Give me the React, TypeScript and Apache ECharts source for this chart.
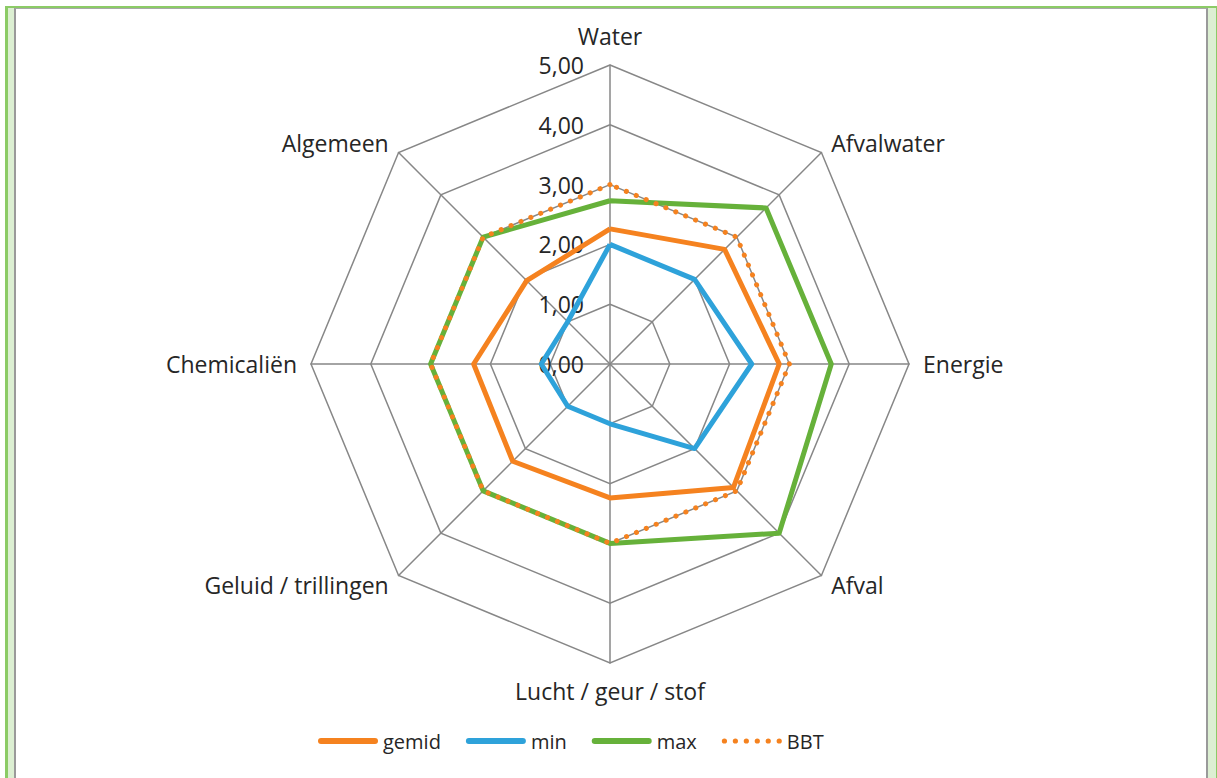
import React, { useEffect, useRef } from "react";
import * as echarts from "echarts";

// Categories in clockwise order starting at the top
const categories = [
  "Water",
  "Afvalwater",
  "Energie",
  "Afval",
  "Lucht / geur / stof",
  "Geluid / trillingen",
  "Chemicaliën",
  "Algemeen",
];
const gemid = [2.26, 2.71, 2.83, 2.92, 2.24, 2.3, 2.28, 1.97];
const minVals = [2.0, 2.0, 2.37, 2.0, 1.0, 1.0, 1.15, 1.0];
const maxVals = [2.73, 3.69, 3.7, 4.0, 3.0, 3.0, 3.0, 3.0];
const bbt = [3, 3, 3, 3, 3, 3, 3, 3];
const axisMax = 5;

const ORANGE = "#F5821F";
const BLUE = "#2EA2DA";
const GREEN = "#66B13A";
const FONT = "'Open Sans', 'Noto Sans', sans-serif";

// ECharts lays radar indicators out counter-clockwise; reorder to get clockwise
const cw = (arr: any[]) => [arr[0], ...arr.slice(1).reverse()];

const solidIcon = "path://M3,0 L57,0 A3,3 0 0 1 57,6 L3,6 A3,3 0 0 1 3,0 Z";
const dotIcon =
  "path://" +
  [3, 13.5, 24, 34.5, 45, 55.5]
    .map((c) => `M${c - 2.5},3 a2.5,2.5 0 1,0 5,0 a2.5,2.5 0 1,0 -5,0 Z`)
    .join(" ");

export default function App() {
  const ref = useRef<HTMLDivElement>(null);
  useEffect(() => {
    if (!ref.current) return;
    const chart = echarts.init(ref.current, undefined, { renderer: "svg" });
    const indicator = cw(categories).map((name, i) => {
      const o: any = { name, min: 0, max: axisMax };
      if (i === 0) {
        o.axisLabel = { show: true };
        o.nameGap = 18;
      }
      if (name.startsWith("Lucht")) o.nameGap = 16;
      return o;
    });
    chart.setOption({
      animation: false,
      legend: {
        bottom: 22,
        left: 313,
        itemWidth: 60,
        itemHeight: 6,
        itemGap: 25,
        textStyle: { fontFamily: FONT, fontSize: 20, color: "#262626" },
        data: [
          { name: "gemid", icon: solidIcon },
          { name: "min", icon: solidIcon },
          { name: "max", icon: solidIcon },
          { name: "BBT", icon: dotIcon },
        ],
      },
      radar: {
        center: [610, 364],
        radius: 299,
        startAngle: 90,
        splitNumber: 5,
        shape: "polygon",
        indicator,
        axisName: {
          color: "#262626",
          fontFamily: FONT,
          fontSize: 23,
        },
        nameGap: 14,
        axisLine: { lineStyle: { color: "#878787", width: 1.5 } },
        splitLine: { lineStyle: { color: "#878787", width: 1.5 } },
        splitArea: { show: false },
        axisLabel: {
          show: false,
          fontFamily: FONT,
          fontSize: 23,
          color: "#262626",
          margin: 26,
          formatter: (v: number) => v.toFixed(2).replace(".", ","),
        },
      },
      series: [
        {
          type: "radar",
          symbol: "none",
          data: [
            {
              name: "gemid",
              value: cw(gemid),
              itemStyle: { color: ORANGE },
              lineStyle: { color: ORANGE, width: 5 },
            },
            {
              name: "min",
              value: cw(minVals),
              itemStyle: { color: BLUE },
              lineStyle: { color: BLUE, width: 5 },
            },
            {
              name: "max",
              value: cw(maxVals),
              itemStyle: { color: GREEN },
              lineStyle: { color: GREEN, width: 5 },
            },
            {
              name: "BBT",
              value: cw(bbt),
              itemStyle: { color: ORANGE },
              lineStyle: { color: ORANGE, width: 5, type: [0.1, 10.6], cap: "round" },
            },
          ],
        },
      ],
    });
    return () => chart.dispose();
  }, []);

  return (
    <div style={{ position: "absolute", left: 0, top: 0, width: 1217, height: 778, overflow: "hidden", background: "#fff" }}>
      <div
        style={{
          position: "absolute",
          left: 5,
          top: 6,
          width: 1208,
          height: 800,
          background: "#DCEFD2",
          borderLeft: "3px solid #8CCB66",
          borderTop: "2px solid #8CCB66",
          borderRight: "1px solid #8CCB66",
        }}
      />
      <div
        style={{
          position: "absolute",
          left: 14,
          top: 8,
          width: 1190,
          height: 800,
          background: "#fff",
          borderLeft: "2px solid #9a9a9a",
          borderTop: "1px solid #a8a8a8",
          borderRight: "2px solid #9a9a9a",
        }}
      />
      <div ref={ref} style={{ position: "absolute", left: 0, top: 0, width: 1217, height: 778 }} />
    </div>
  );
}
